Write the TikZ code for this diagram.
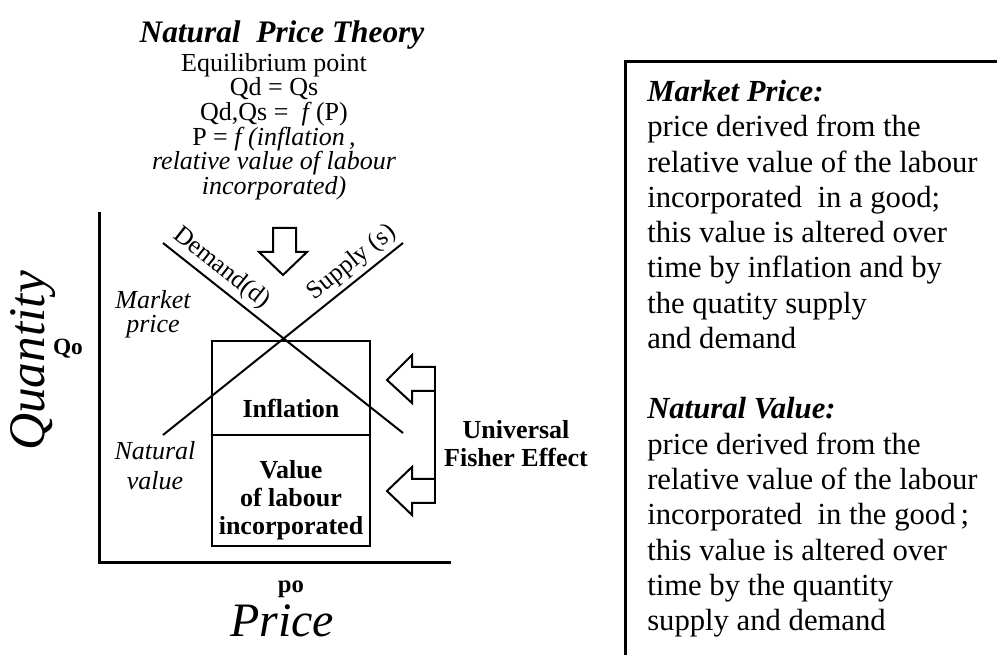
\documentclass[tikz,border=0pt]{standalone}
\usepackage{fontspec}
\setmainfont{Liberation Serif}
\begin{document}
\begin{tikzpicture}[x=0.75pt,y=-0.75pt,line join=miter]
\tikzset{
  ax/.style={line width=2.25pt},
  curve/.style={line width=1.5pt},
  boxln/.style={line width=1.6pt},
  txt/.style={inner sep=0pt},
  lab/.style={inner sep=0pt,align=center,font=\fontsize{19.5}{18}\selectfont\itshape},
  bl/.style={inner sep=0pt,align=center,font=\fontsize{19.5}{21}\selectfont\bfseries},
  slab/.style={font=\fontsize{19}{21}\selectfont,inner sep=3pt},
}
\useasboundingbox (0,0) rectangle (997,655);
\clip (0,0) rectangle (997,655);

% title block
\node[txt,anchor=base,font=\fontsize{23.5}{28}\selectfont\bfseries\itshape] (title) at (282,43) {Natural\ \ Price Theory};
\node[txt,anchor=north,align=center,font=\fontsize{19.5}{18.5}\selectfont] (eq) at (274,53)
  {Equilibrium point\\ Qd = Qs\\ Qd,Qs =\ \ \textit{f}\,(P)\\ P = \textit{f (inflation\,,}\\ \textit{relative value of labour}\\ \textit{incorporated)}};

% axes
\coordinate (ytop) at (99,212);
\coordinate (orig) at (99,563);
\coordinate (xend) at (451,563);
\draw[ax] (ytop) -- (orig) -- (xend);

% boxes
\coordinate (bxa) at (212,341);
\coordinate (bxb) at (370,546);
\coordinate (dvl) at (212,435);
\coordinate (dvr) at (370,435);
\draw[boxln] (bxa) rectangle (bxb);
\draw[line width=2.2pt] (dvl) -- (dvr);
\node[bl] (infl) at (291,408) {Inflation};
\node[bl,anchor=north] (vol) at (291,460) {Value\\ of labour\\ incorporated};

% demand / supply
\coordinate (d1) at (163,243);
\coordinate (d2) at (403,433);
\coordinate (s1) at (163,435);
\coordinate (s2) at (403,243);
\draw[curve] (d1) -- node[slab,sloped,above,pos=0.2] (dlab) {Demand(d)} (d2);
\draw[curve] (s1) -- node[slab,sloped,above,pos=0.83] (slab) {Supply (s)} (s2);

% down arrow
\draw[curve] (273,228) -- (296,228) -- (296,252) -- (307,252) -- (283,275) -- (259,252) -- (273,252) -- cycle;

% right arrows
\draw[curve] (435,367) -- (412,367) -- (412,355) -- (387,380) -- (412,403) -- (412,391) -- (435,391);
\draw[curve] (435,479) -- (412,479) -- (412,467) -- (387,491) -- (412,515) -- (412,503) -- (435,503);
\draw[line width=1.8pt] (435,366) -- (435,504);
\node[bl,anchor=north] (ufe) at (516,420) {Universal\\ Fisher Effect};

% side labels
\node[lab,anchor=north] (mp) at (153,290) {Market\\ price};
\node[lab,anchor=north,font=\fontsize{19.5}{22.5}\selectfont\itshape] (nv) at (155,441) {Natural\\ value};
\node[txt,font=\fontsize{17.5}{20}\selectfont\bfseries] (qo) at (68,349) {Qo};
\node[txt,anchor=base,font=\fontsize{18.5}{20}\selectfont\bfseries] (po) at (291,593) {po};
\node[txt,anchor=base,font=\fontsize{36}{40}\selectfont\itshape] (price) at (282,637) {Price};
\node[txt,rotate=90,font=\fontsize{38.5}{40}\selectfont\itshape] (qty) at (33,361) {Quantity};

% definitions box
\draw[ax] (625,62) rectangle (1010,680);
\node[txt,anchor=north west,align=left,font=\fontsize{23}{26.45}\selectfont] (defs) at (647,80)
 {\textbf{\textit{Market Price:}}\\ price derived from the\\ relative value of the labour\\
  incorporated\ \ in a good;\\ this value is altered over\\ time by inflation and by\\
  the quatity supply\\ and demand\\[26.45pt]
  \textbf{\textit{Natural Value:}}\\ price derived from the\\ relative value of the labour\\
  incorporated\ \ in the good\,;\\ this value is altered over\\ time by the quantity\\
  supply and demand};
\end{tikzpicture}
\end{document}
